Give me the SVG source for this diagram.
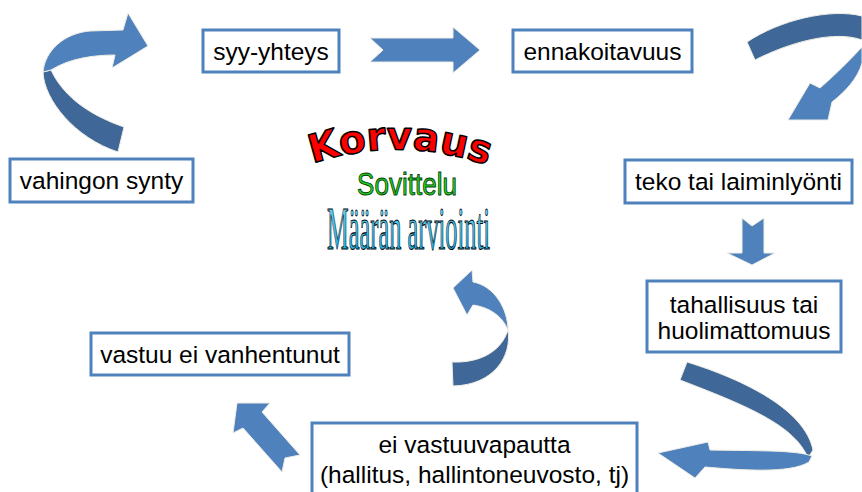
<svg xmlns="http://www.w3.org/2000/svg" width="862" height="492" viewBox="0 0 862 492">
<style>
.box rect{fill:#ffffff;stroke:#4F81BD;stroke-width:3}
.box text{font-family:"Liberation Sans",Arial,sans-serif;font-size:24.5px;fill:#000;text-anchor:middle}
.arr{stroke:#EFEDE4;stroke-width:1;stroke-linejoin:round}
.lt{fill:#4F81BD}
.dk{fill:#3F6898}
</style>
<defs>
<path id="arc" d="M 303,167 Q 400,131 497,169"/>
<linearGradient id="cyan" x1="0" y1="0" x2="0" y2="1">
<stop offset="0" stop-color="#7FDDF8"/>
<stop offset="1" stop-color="#0AA8E4"/>
</linearGradient>
</defs>
<rect width="862" height="492" fill="#ffffff"/>

<g id="connectors">
<path class="arr lt" d="M 370,38 L 453,38 L 453,27 L 480,50 L 453,73 L 453,62 L 370,62 L 383,50 Z"/>
<path class="arr lt" d="M 742,218 L 752,226 L 764,218 L 764,253 L 775,253 L 752,265 L 727,253 L 742,253 Z"/>
<path class="arr lt" d="M 237,403 L 270,403 L 262,412 L 300,455 L 285,458 L 282,472 L 243,428 L 233,433 Z"/>
<g id="curl-topleft">
<path class="arr dk" d="M 118,152 L 124,127 C 95,117 65,100 51,70 L 43,72 C 44,100 75,138 118,152 Z"/>
<path class="arr lt" d="M 43,72 C 45,50 65,33 90,31 L 123,30 L 128,13 L 148,46 L 112,68 L 115,55 C 95,55 70,58 51,70 Z"/>
</g>
<g id="curl-topright">
<path class="arr dk" d="M 747,42 C 780,20 830,8 862,16 L 862,40 C 835,30 790,42 755,60 Z"/>
<path class="arr lt" d="M 862,47 C 850,60 835,75 820,88 L 810,83 L 788,120 L 828,120 L 832,102 C 845,92 858,78 862,63 Z"/>
</g>
<g id="curl-bottomright">
<path class="arr dk" d="M 687,362 C 745,380 805,410 813,450 L 808,458 C 795,425 745,405 680,380 Z"/>
<path class="arr lt" d="M 812,456 C 795,450 760,451 710,450 L 708,442 L 658,453 L 695,478 L 705,467 C 740,470 790,474 809,462 Z"/>
</g>
<g id="curl-center">
<path class="arr dk" d="M 452,362 C 475,363 500,355 508,330 C 512,355 495,385 453,386 Z"/>
<path class="arr lt" d="M 508,330 C 508,310 495,286 473,282 L 472,270 L 453,288 L 467,315 L 473,305 C 488,307 502,315 508,330 Z"/>
</g>
</g>

<g id="n-syy" class="box"><rect x="203" y="30" width="136" height="42"/><text x="271" y="60">syy-yhteys</text></g>
<g id="n-ennakoitavuus" class="box"><rect x="513" y="30" width="179" height="42"/><text x="602.5" y="60">ennakoitavuus</text></g>
<g id="n-vahingon" class="box"><rect x="10" y="159" width="183" height="43"/><text x="101.5" y="189">vahingon synty</text></g>
<g id="n-teko" class="box"><rect x="625" y="160" width="227" height="43"/><text x="738.5" y="190">teko tai laiminlyönti</text></g>
<g id="n-tahallisuus" class="box"><rect x="647" y="281" width="194" height="71"/><text x="744" y="313">tahallisuus tai</text><text x="744" y="339">huolimattomuus</text></g>
<g id="n-vastuu" class="box"><rect x="91" y="333" width="258" height="42"/><text x="220" y="363">vastuu ei vanhentunut</text></g>
<g id="n-ei" class="box"><rect x="312" y="423" width="325" height="80"/><text x="474.5" y="453">ei vastuuvapautta</text><text x="474.5" y="483">(hallitus, hallintoneuvosto, tj)</text></g>

<g id="center-title">
<text font-family="'DejaVu Sans',sans-serif" font-weight="bold" font-size="39" fill="#FF0000" stroke="#000" stroke-width="1.5" stroke-linejoin="round"><textPath href="#arc" startOffset="50%" text-anchor="middle">Korvaus</textPath></text>
<text x="407" y="195" text-anchor="middle" font-family="'Liberation Sans',Arial,sans-serif" font-size="31" textLength="100" lengthAdjust="spacingAndGlyphs" fill="#1ED21E" stroke="#0A3A0A" stroke-width="0.9">Sovittelu</text>
<text x="408.5" y="249" text-anchor="middle" font-family="'Liberation Serif','Times New Roman',serif" font-size="62" textLength="163" lengthAdjust="spacingAndGlyphs" fill="url(#cyan)" stroke="#000" stroke-width="1.1">Määrän arviointi</text>
</g>
</svg>
